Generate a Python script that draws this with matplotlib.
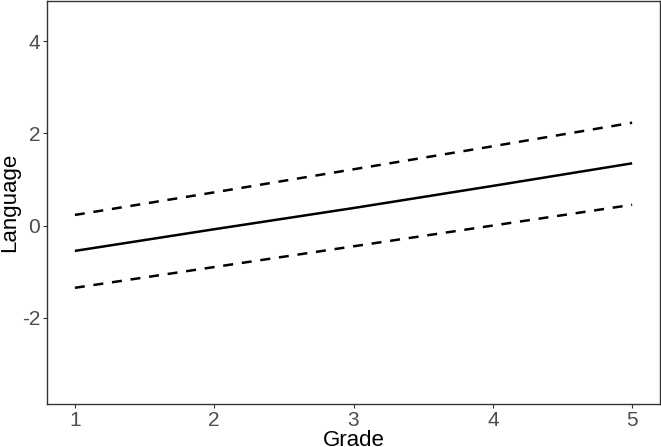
import matplotlib
matplotlib.use("Agg")
import matplotlib.pyplot as plt

plt.rcParams['font.family'] = ['Liberation Sans', 'DejaVu Sans']

grade = [1, 2, 3, 4, 5]
fit = [-0.55, -0.08, 0.38, 0.86, 1.35]
upper = [0.23, 0.72, 1.22, 1.72, 2.23]
lower = [-1.35, -0.90, -0.45, 0.00, 0.45]
yticks = [-2, 0, 2, 4]
ylabels = ['-2', '0', '2', '4']

fig = plt.figure(figsize=(6.61, 4.47), dpi=100)
ax = fig.add_axes([47/661, 43/447, 613/661, 403/447])

ax.plot(grade, fit, color='black', lw=1.8, solid_capstyle='butt')
ax.plot(grade, upper, color='black', lw=1.8, dashes=(4, 3.5))
ax.plot(grade, lower, color='black', lw=1.8, dashes=(4, 3.5))

ax.set_xlim(0.8, 5.2)
ax.set_ylim(-3.87, 4.87)
ax.set_xticks(grade)
ax.set_yticks(yticks)
ax.set_yticklabels(ylabels)
ax.tick_params(labelsize=15, labelcolor='#4d4d4d', color='#333333', length=3, width=0.8, pad=2)
for s in ax.spines.values():
    s.set_color('#333333')
    s.set_linewidth(1.0)
ax.set_xlabel('Grade', fontsize=16, labelpad=0)
ax.set_ylabel('Language', fontsize=16)
ax.yaxis.set_label_coords(-0.044, 0.5)

fig.savefig('out.png', dpi=100)
